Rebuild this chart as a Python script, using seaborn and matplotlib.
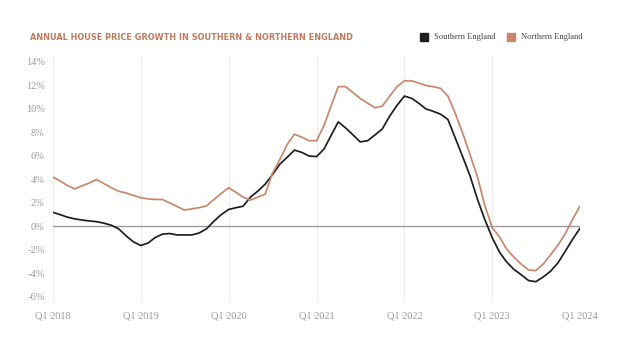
import pandas as pd
import matplotlib.pyplot as plt
import seaborn as sns

## Monthly annual growth (%), Jan 2018 - Jan 2024
southern = [1.2, 1.0, 0.8, 0.65, 0.55, 0.47, 0.41, 0.28, 0.1, -0.2, -0.8, -1.3,
            -1.62, -1.4, -0.95, -0.65, -0.6, -0.72, -0.72, -0.72, -0.55, -0.2, 0.45, 1.0,
            1.45, 1.6, 1.72, 2.5, 3.0, 3.6, 4.4, 5.3, 5.9, 6.5, 6.3, 6.0,
            5.95, 6.6, 7.7, 8.9, 8.4, 7.8, 7.2, 7.3, 7.8, 8.3, 9.4, 10.3,
            11.1, 10.9, 10.5, 10.0, 9.8, 9.55, 9.1, 7.5, 5.9, 4.3, 2.3, 0.6,
            -0.95, -2.2, -3.0, -3.65, -4.1, -4.6, -4.7, -4.3, -3.8, -3.1, -2.1, -1.1,
            -0.15]
northern = [4.2, 3.85, 3.5, 3.2, 3.45, 3.7, 4.0, 3.65, 3.3, 3.0, 2.85, 2.65,
            2.45, 2.35, 2.3, 2.3, 2.0, 1.7, 1.4, 1.5, 1.6, 1.75, 2.3, 2.8,
            3.3, 2.9, 2.5, 2.25, 2.5, 2.75, 4.5, 5.7, 7.0, 7.85, 7.6, 7.3,
            7.3, 8.6, 10.2, 11.9, 11.9, 11.4, 10.9, 10.5, 10.1, 10.25, 11.1, 11.9,
            12.4, 12.4, 12.2, 12.0, 11.9, 11.75, 11.1, 9.6, 7.9, 6.1, 4.2, 1.8,
            -0.1, -0.9, -1.9, -2.6, -3.2, -3.7, -3.76, -3.2, -2.4, -1.6, -0.6, 0.6,
            1.74]
years = [2018, 2019, 2020, 2021, 2022, 2023, 2024]
x_labels = ['Q1 %d' % y for y in years]
y_ticks = [-6, -4, -2, 0, 2, 4, 6, 8, 10, 12, 14]

months = pd.date_range('2018-01-01', periods=len(southern), freq='MS')
df = pd.DataFrame({'date': list(months) * 2,
                   'growth': southern + northern,
                   'region': ['Southern England'] * len(southern) + ['Northern England'] * len(northern)})

sns.set_style('white')
plt.rcParams['font.family'] = ['Liberation Serif', 'DejaVu Serif']

SOUTH_C = '#1e1e1e'
NORTH_C = '#c8876c'
GREY = '#9a9a9a'

fig = plt.figure(figsize=(6.28, 3.52), dpi=100)
ax = fig.add_axes([53 / 628, 1 - 300.5 / 352, 527 / 628, (300.5 - 57.3) / 352])

sns.lineplot(data=df, x='date', y='growth', hue='region',
             palette={'Southern England': SOUTH_C, 'Northern England': NORTH_C},
             linewidth=1.25, legend=False, ax=ax, zorder=3)

tick_dates = [pd.Timestamp('%d-01-01' % y) for y in years]
for d in tick_dates:
    ax.axvline(d, color='#ececec', lw=0.8, zorder=0)
ax.axhline(0, color=GREY, lw=1.0, zorder=1)

ax.set_xlim(tick_dates[0], tick_dates[-1])
ax.set_ylim(-6.3, 14.4)
ax.set_xticks(tick_dates)
ax.set_xticklabels(x_labels)
ax.set_yticks(y_ticks)
ax.set_yticklabels(['%d%%' % v for v in y_ticks])
ax.tick_params(axis='both', length=0, labelsize=7.5, colors=GREY)
ax.tick_params(axis='x', pad=8)
ax.tick_params(axis='y', pad=6)
ax.set_xlabel('')
ax.set_ylabel('')
for s in ax.spines.values():
    s.set_visible(False)

# title and legend
fig.text(30 / 628, 1 - 37 / 352, 'ANNUAL HOUSE PRICE GROWTH IN SOUTHERN & NORTHERN ENGLAND',
         family='DejaVu Sans', fontsize=5.9, fontweight='bold', color='#c07a5e', va='center')
for xs, lbl, c in [(420, 'Southern England', SOUTH_C), (507, 'Northern England', NORTH_C)]:
    fig.patches.append(plt.Rectangle((xs / 628, 1 - 41 / 352), 8 / 628, 8 / 352,
                                     transform=fig.transFigure, color=c, figure=fig))
    fig.text((xs + 14) / 628, 1 - 37 / 352, lbl, fontsize=6.1, color='#444444', va='center')

fig.savefig('out.png', dpi=100)
